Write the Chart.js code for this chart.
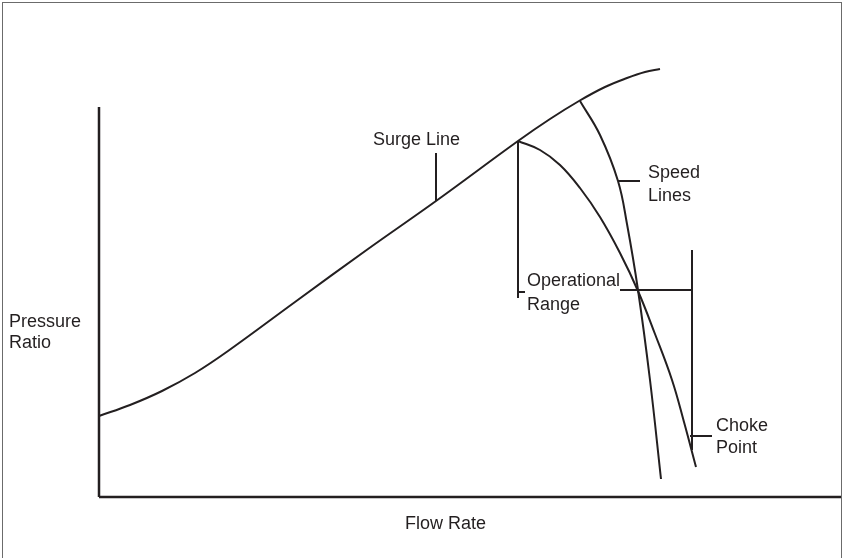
<!DOCTYPE html>
<html>
<head>
<meta charset="utf-8">
<script src="https://cdn.jsdelivr.net/npm/chart.js@4.4.1/dist/chart.umd.min.js"></script>
<style>
  html, body { margin: 0; padding: 0; background: #fff; }
  #wrap { position: relative; width: 842px; height: 558px; overflow: hidden; }
  #frame {
    position: absolute; left: 2px; top: 2px; width: 840px; height: 600px;
    border: 1.5px solid #6b6b6b; box-sizing: border-box;
  }
  canvas { position: absolute; left: 0; top: 0; }
</style>
</head>
<body>
<div id="wrap">
  <div id="frame"></div>
  <canvas id="map" width="842" height="558"></canvas>
</div>
<script>
// schematic compressor map, flow on x, pressure ratio on y (arbitrary units)
const surgeFlow = [0, 31, 63, 96, 129, 196, 269, 337, 419, 451, 480, 506, 528, 546, 561];
const surgePR   = [81, 92, 106, 124, 146, 195, 248, 296, 356, 378, 396, 410, 419, 425, 428];

const opFlow = [419, 441, 461, 481, 501, 521, 539, 556, 573, 585, 597];
const opPR   = [356, 347, 332, 309, 280, 244, 206, 163, 117, 75, 30];

const speedFlow = [481, 501, 519, 528, 539, 551, 562];
const speedPR   = [396, 362, 316, 273, 207, 117, 18];

// axis extents
const xMax = 742;
const yMax = 390;

// leader lines: [x1, y1, x2, y2]
const leaders = [
  [337, 296, 337, 344],   // surge line
  [419, 356, 419, 199],   // operational range bar
  [419, 205, 426, 205],
  [519, 316, 541, 316],   // speed lines
  [521, 207, 593, 207],   // operating point
  [593, 247, 593, 47],    // choke bar
  [591, 61, 613, 61]      // choke point
];

// labels: [text, x, y]  (left aligned, y = middle)
const labels = [
  ['Surge Line', 274, 357],
  ['Speed', 549, 324],
  ['Lines', 549, 301],
  ['Operational', 428, 216],
  ['Range', 428, 192],
  ['Choke', 617, 71],
  ['Point', 617, 49],
  ['Pressure', -90, 175],
  ['Ratio', -90, 154],
  ['Flow Rate', 306, -27]
];

const ink = '#231f20';

function pts(xs, ys) {
  return xs.map((x, i) => ({ x: x, y: ys[i] }));
}

function line(data, width, smooth) {
  return {
    data: data,
    showLine: true,
    borderColor: ink,
    borderWidth: width,
    pointRadius: 0,
    fill: false,
    tension: smooth ? 0.4 : 0,
    clip: false
  };
}

const datasets = [
  line([{ x: 0, y: 0 }, { x: 0, y: yMax }], 2.5, false),
  line([{ x: 0, y: 0 }, { x: xMax, y: 0 }], 2.5, false),
  line(pts(surgeFlow, surgePR), 2, true),
  line(pts(opFlow, opPR), 2, true),
  line(pts(speedFlow, speedPR), 2, true)
];
leaders.forEach(l => {
  datasets.push(line([{ x: l[0], y: l[1] }, { x: l[2], y: l[3] }], 2, false));
});

const textPlugin = {
  id: 'textLabels',
  afterDatasetsDraw(chart) {
    const ctx = chart.ctx;
    const xs = chart.scales.x, ys = chart.scales.y;
    ctx.save();
    ctx.fillStyle = ink;
    ctx.font = '18px "Liberation Sans", Arial, sans-serif';
    ctx.textAlign = 'left';
    ctx.textBaseline = 'middle';
    labels.forEach(l => {
      ctx.fillText(l[0], xs.getPixelForValue(l[1]), ys.getPixelForValue(l[2]));
    });
    ctx.restore();
  }
};

new Chart(document.getElementById('map'), {
  type: 'scatter',
  data: { datasets: datasets },
  options: {
    responsive: false,
    animation: false,
    layout: { padding: { left: 99, right: 1, top: 107, bottom: 61 } },
    scales: {
      x: { type: 'linear', min: 0, max: xMax, display: false },
      y: { type: 'linear', min: 0, max: yMax, display: false }
    },
    plugins: {
      legend: { display: false },
      tooltip: { enabled: false }
    }
  },
  plugins: [textPlugin]
});
</script>
</body>
</html>
